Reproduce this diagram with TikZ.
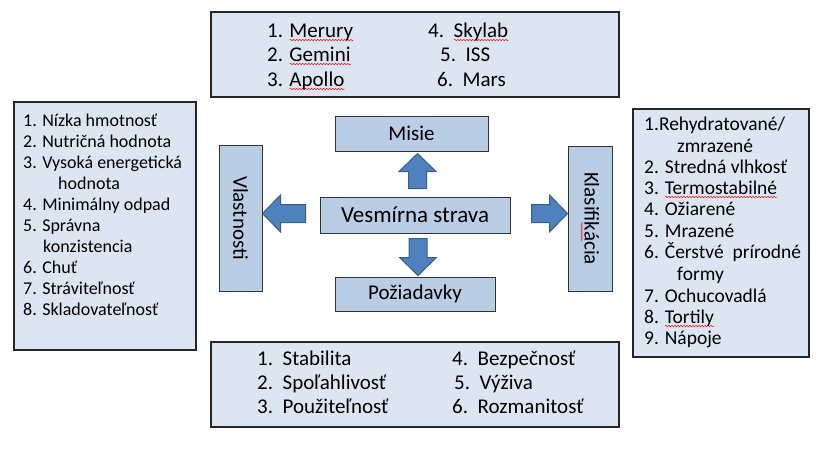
\documentclass[tikz,border=0pt]{standalone}
\usepackage{fontspec}
\setmainfont{Carlito}
\usetikzlibrary{calc,decorations.pathmorphing}
\definecolor{listfill}{RGB}{220,230,242}
\definecolor{boxfill}{RGB}{185,205,229}
\definecolor{arrowfill}{RGB}{79,129,189}
\definecolor{arrowline}{RGB}{56,93,138}
\newsavebox\spellbox
\newcommand\spellmark[1]{\sbox\spellbox{#1}\rlap{\raisebox{-3pt}{\tikz[baseline=0pt]\draw[red, line width=0.5pt, decorate, decoration={snake, amplitude=0.7pt, segment length=3pt}] (0pt,0pt) -- (\wd\spellbox,0pt);}}\usebox\spellbox}
\tikzset{
  listbox/.style={draw=black!85, line width=1.2pt, fill=listfill, inner sep=0},
  midbox/.style={draw=black!80, line width=1pt, fill=boxfill, inner sep=0, font=\fontsize{21}{24}\selectfont},
  item/.style={anchor=base west, inner sep=0, font=\fontsize{18}{21}\selectfont},
  ritem/.style={anchor=base west, inner sep=0, font=\fontsize{19.5}{22}\selectfont},
  bigitem/.style={anchor=base west, inner sep=0, font=\fontsize{21}{24}\selectfont},
  blockarrow/.style={fill=arrowfill, draw=arrowline, line width=1pt,
    to path={($(\tikztotarget)!18pt!(\tikztostart)$) coordinate (hb)
      ($(\tikztostart)!9pt!90:(\tikztotarget)$) -- ($(hb)!9pt!90:(\tikztotarget)$)
      -- ($(hb)!18.5pt!90:(\tikztotarget)$) -- (\tikztotarget)
      -- ($(hb)!18.5pt!-90:(\tikztotarget)$) -- ($(hb)!9pt!-90:(\tikztotarget)$)
      -- ($(\tikztostart)!9pt!-90:(\tikztotarget)$) -- cycle}}
}
\begin{document}
\begin{tikzpicture}[x=1pt,y=-1pt]
\useasboundingbox (0,0) rectangle (827,448);
% list boxes
\node[listbox, minimum width=408, minimum height=85] (mlist) at (415,54.5) {};
\node[listbox, minimum width=408, minimum height=85] (plist) at (415,384.5) {};
\node[listbox, minimum width=182, minimum height=248] (vlist) at (105,226) {};
\node[listbox, minimum width=176, minimum height=248] (klist) at (721,233) {};
% middle boxes
\node[midbox, minimum width=153, minimum height=35] (misie) at (411.5,133.5) {Misie};
\node[midbox, font=\fontsize{23}{26}\selectfont, minimum width=190, minimum height=36] (strava) at (415,215) {Vesmírna strava};
\node[midbox, minimum width=160, minimum height=34] (poz) at (415,294) {Požiadavky};
\node[midbox, minimum width=43, minimum height=146] (vlast) at (240.5,218) {\rotatebox{-90}{Vlastnosti}};
\node[midbox, minimum width=44, minimum height=145] (klas) at (590,218.5) {\rotatebox{-90}{Klasifi\spellmark{ká}cia}};
% arrows
\draw[blockarrow] ([shift={(2.5,-8)}]strava.north) to ([shift={(6,2)}]misie.south);
\draw[blockarrow] ([shift={(3,5)}]strava.south) to ([shift={(3,-1)}]poz.north);
\draw[blockarrow] ([shift={(-14,-1.5)}]strava.west) to ([shift={(0,-4.5)}]vlast.east);
\draw[blockarrow] ([shift={(21,-1.5)}]strava.east) to ([shift={(0,-5)}]klas.west);
% missions
\node[bigitem] (m1) at (267,37) {1. \spellmark{Merury}};
\node[bigitem] (m2) at (267,61) {2. \spellmark{Gemini}};
\node[bigitem] (m3) at (267,86) {3. \spellmark{Apollo}};
\node[bigitem] (m4) at (428,37) {4.\ \ \spellmark{Skylab}};
\node[bigitem] (m5) at (440,61) {5.\ \ ISS};
\node[bigitem] (m6) at (437,86) {6.\ \ Mars};
% requirements
\node[bigitem] (p1) at (257,365) {1.\ \ Stabilita};
\node[bigitem] (p2) at (257,389) {2.\ \ Spoľahlivosť};
\node[bigitem] (p3) at (257,413) {3.\ \ Použiteľnosť};
\node[bigitem] (p4) at (452,365) {4.\ \ Bezpečnosť};
\node[bigitem] (p5) at (454,389) {5.\ \ Výživa};
\node[bigitem] (p6) at (452,413) {6.\ \ Rozmanitosť};
% properties
\node[item] (v1) at (23,126.5) {1. Nízka hmotnosť};
\node[item] (v2) at (23,147.5) {2. Nutričná hodnota};
\node[item] (v3) at (23,168.5) {3. Vysoká energetická};
\node[item] (v3b) at (58,189.5) {hodnota};
\node[item] (v4) at (23,210.5) {4. Minimálny odpad};
\node[item] (v5) at (23,231.5) {5. Správna};
\node[item] (v5b) at (43,252.5) {konzistencia};
\node[item] (v6) at (23,273.5) {6. Chuť};
\node[item] (v7) at (23,294.5) {7. Stráviteľnosť};
\node[item] (v8) at (23,315.5) {8. Skladovateľnosť};
% classification
\node[ritem] (k1) at (644,130) {1.Rehydratované/};
\node[ritem] (k1b) at (677,152) {zmrazené};
\node[ritem] (k2) at (644,173) {2. Stredná vlhkosť};
\node[ritem] (k3) at (644,194) {3. \spellmark{Termostabilné}};
\node[ritem] (k4) at (644,215.5) {4. Ožiarené};
\node[ritem] (k5) at (644,237) {5. Mrazené};
\node[ritem] (k6) at (644,258) {6. Čerstvé\ \ prírodné};
\node[ritem] (k6b) at (677,280) {formy};
\node[ritem] (k7) at (644,302) {7. Ochucovadlá};
\node[ritem] (k8) at (644,323) {8. \spellmark{Tortily}};
\node[ritem] (k9) at (644,344) {9. Nápoje};
\end{tikzpicture}
\end{document}
